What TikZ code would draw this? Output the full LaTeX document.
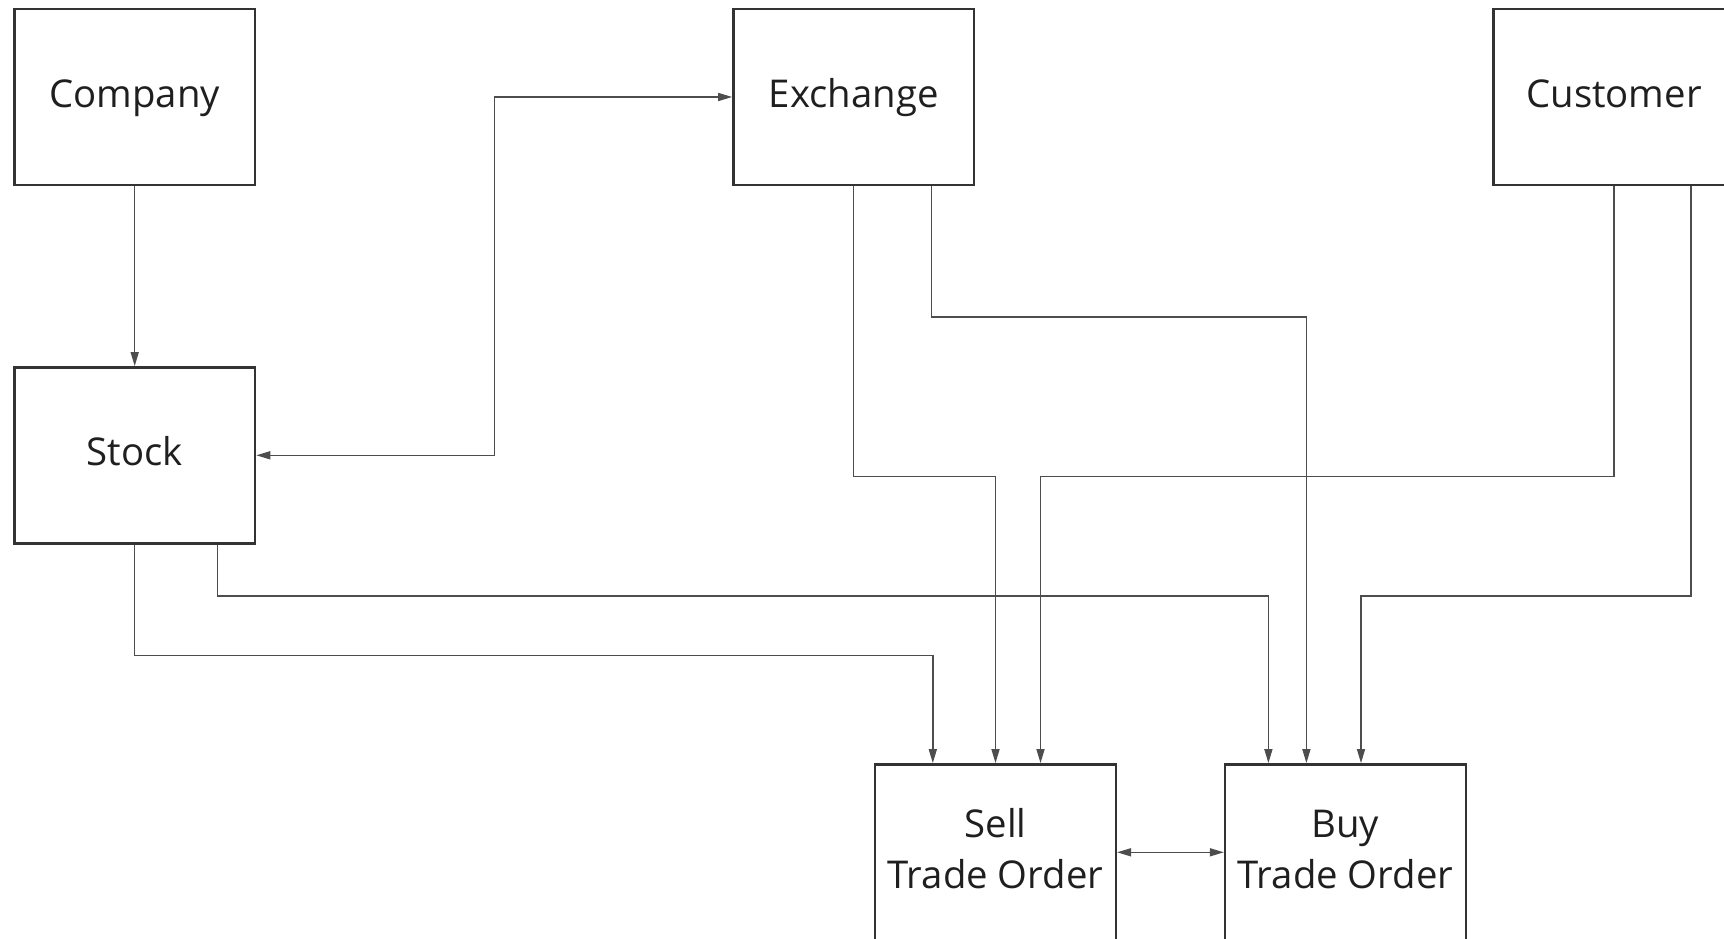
\documentclass[tikz,border=0pt]{standalone}
\usepackage{fontspec}
\setmainfont{Open Sans}
\usetikzlibrary{arrows.meta}
\definecolor{boxline}{HTML}{333333}
\definecolor{conline}{HTML}{4D4D4D}
\tikzset{
  boxbase/.style={draw=boxline, line width=2.4pt, rectangle, minimum width=240.7pt, minimum height=176pt, inner sep=0pt, align=center, text=black!88, font=\fontsize{38.3}{51}\selectfont},
  entity/.style={boxbase, text height=27.3pt, text depth=6.8pt},
  entity2/.style={boxbase},
  conn/.style={draw=conline, line width=1.5pt, -{Triangle[length=14pt,width=8pt]}},
  conn2/.style={draw=conline, line width=1.5pt, {Triangle[length=14pt,width=8pt]}-{Triangle[length=14pt,width=8pt]}}
}
\begin{document}
\begin{tikzpicture}[x=1pt,y=-1pt]
\useasboundingbox (0,0) rectangle (1724,939);
\clip (0,0) rectangle (1724,939);
\fill[white] (0,0) rectangle (1724,939);

\node[entity] (company)  at (134.7,97)  {Company};
\node[entity] (exchange) at (853.7,97)  {Exchange};
\node[entity] (customer) at (1614,97)   {Customer};
\node[entity] (stock)    at (134.7,455.3) {Stock};
\node[entity2] (sell)    at (995.5,852.3) {\begin{tabular}{@{}c@{}}Sell\\Trade Order\end{tabular}};
\node[entity2] (buy)     at (1345.4,852.3) {\begin{tabular}{@{}c@{}}Buy\\Trade Order\end{tabular}};

% Company -> Stock
\draw[conn] (company.south) -- (stock.north);

% Stock <-> Exchange
\coordinate (jx) at (494.3,0);
\draw[conn2] (stock.east) -- (stock.east -| jx) -- (exchange.west -| jx) -- (exchange.west);

% Exchange -> Sell
\draw[conn] (exchange.south) -- ++(0,290.3) -| (sell.north);
% Exchange -> Buy
\draw[conn] ([xshift=77.6pt]exchange.south) -- ++(0,130.6) -| ([xshift=-39pt]buy.north);

% Customer -> Sell
\draw[conn] (customer.south) -- ++(0,290.3) -| ([xshift=45pt]sell.north);
% Customer -> Buy
\draw[conn] ([xshift=77pt]customer.south) -- ++(0,410) -| ([xshift=15.6pt]buy.north);

% Stock -> Sell
\draw[conn] (stock.south) -- ++(0,110.9) -| ([xshift=-62.7pt]sell.north);
% Stock -> Buy
\draw[conn] ([xshift=83pt]stock.south) -- ++(0,51.7) -| ([xshift=-77pt]buy.north);

% Sell <-> Buy
\draw[conn2] (sell.east) -- (buy.west);
\end{tikzpicture}
\end{document}
